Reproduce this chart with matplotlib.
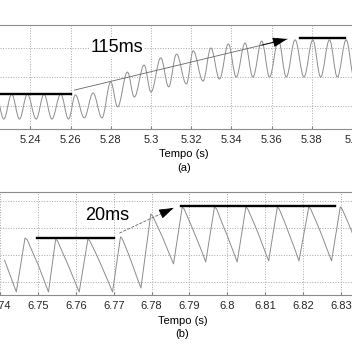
import matplotlib.pyplot as plt
from matplotlib.path import Path
from matplotlib.patches import PathPatch

plt.rcParams['font.family'] = ['Liberation Sans', 'DejaVu Sans']

# (a) picos e vales da tensao
t_a = [5.2229, 5.2268, 5.2307, 5.2346, 5.2385, 5.2429, 5.2468, 5.2507,
       5.2551, 5.2590, 5.2624, 5.2668, 5.2712, 5.2756, 5.2800, 5.2834,
       5.2883, 5.2917, 5.2966, 5.3000, 5.3049, 5.3088, 5.3127, 5.3176,
       5.3210, 5.3259, 5.3298, 5.3341, 5.3385, 5.3424, 5.3468, 5.3507,
       5.3551, 5.3590, 5.3634, 5.3673, 5.3717, 5.3761, 5.3805, 5.3844,
       5.3888, 5.3927, 5.3971, 5.4010]
v_a = [1.41, 0.55, 1.41, 0.55, 1.41, 0.55, 1.41, 0.55,
       1.41, 0.55, 1.38, 0.59, 1.45, 0.59, 1.83, 0.97,
       2.17, 1.31, 2.41, 1.48, 2.66, 1.66, 2.79, 1.76,
       2.90, 1.86, 3.00, 1.93, 3.14, 2.00, 3.17, 2.00,
       3.24, 2.00, 3.28, 2.00, 3.28, 2.00, 3.28, 2.00,
       3.28, 2.00, 3.28, 2.00]

# (b) forma de onda
t_b = [6.7412, 6.7443, 6.7466, 6.7472, 6.7488, 6.7501, 6.7516, 6.7528,
       6.7547, 6.7552, 6.7568, 6.7581, 6.7596, 6.7609,
       6.7632, 6.7637, 6.7655, 6.7668, 6.7684, 6.7697,
       6.7718, 6.7723, 6.7737, 6.7748, 6.7761, 6.7772,
       6.7798, 6.7803, 6.7819, 6.7831, 6.7846, 6.7858,
       6.7881, 6.7886, 6.7903, 6.7915, 6.7931, 6.7943,
       6.7966, 6.7972, 6.7987, 6.7999, 6.8014, 6.8026,
       6.8049, 6.8054, 6.8070, 6.8082, 6.8097, 6.8109,
       6.8132, 6.8137, 6.8152, 6.8163, 6.8178, 6.8189,
       6.8215, 6.8220, 6.8236, 6.8248, 6.8263, 6.8275,
       6.8298, 6.8303, 6.8319, 6.8331]
v_b = [1.81, 0.63, 2.63, 2.56, 2.04, 1.63, 1.07, 0.63,
       2.59, 2.52, 2.00, 1.59, 1.07, 0.63,
       2.59, 2.52, 2.00, 1.59, 1.07, 0.63,
       2.67, 2.59, 2.11, 1.70, 1.19, 0.78,
       3.52, 3.44, 2.96, 2.59, 2.07, 1.67,
       3.78, 3.70, 3.15, 2.74, 2.19, 1.74,
       3.78, 3.70, 3.15, 2.74, 2.19, 1.74,
       3.78, 3.70, 3.19, 2.78, 2.22, 1.78,
       3.78, 3.70, 3.19, 2.78, 2.22, 1.78,
       3.78, 3.70, 3.19, 2.78, 2.22, 1.78,
       3.78, 3.70, 3.19, 2.78]

# niveis (inicio, fim, valor)
niveis_a = [(5.2249, 5.2600, 1.41), (5.3741, 5.3966, 3.34)]
niveis_b = [(6.7497, 6.7702, 2.63), (6.7878, 6.8285, 3.81)]

ticks_a = [5.24, 5.26, 5.28, 5.30, 5.32, 5.34, 5.36, 5.38, 5.40]
labels_a = ['5.24', '5.26', '5.28', '5.3', '5.32', '5.34', '5.36', '5.38', '5.4']
ticks_b = [6.74, 6.75, 6.76, 6.77, 6.78, 6.79, 6.80, 6.81, 6.82, 6.83]
labels_b = ['6.74', '6.75', '6.76', '6.77', '6.78', '6.79', '6.8', '6.81', '6.82', '6.83']


def curva_suave(ax, t, v, **kw):
    # meia-onda senoidal entre picos e vales via bezier
    verts = [(t[0], v[0])]
    codes = [Path.MOVETO]
    for i in range(1, len(t)):
        dt = t[i] - t[i - 1]
        verts += [(t[i - 1] + 0.3634 * dt, v[i - 1]), (t[i] - 0.3634 * dt, v[i]), (t[i], v[i])]
        codes += [Path.CURVE4] * 3
    ax.add_patch(PathPatch(Path(verts, codes), fill=False, **kw))


def seta(ax, ini, fim, ls):
    ax.plot([ini[0], fim[0]], [ini[1], fim[1]], color='0.4', lw=0.6, ls=ls)
    base = (ini[0] + 0.88 * (fim[0] - ini[0]), ini[1] + 0.88 * (fim[1] - ini[1]))
    ax.annotate('', xy=fim, xytext=base,
                arrowprops=dict(arrowstyle='-|>,head_length=0.9,head_width=0.3',
                                color='black', lw=0.6, mutation_scale=10,
                                shrinkA=0, shrinkB=0))


def estilo(ax, ticks, labels, ygrid):
    ax.set_xticks(ticks)
    ax.set_xticklabels(labels)
    ax.set_yticks(ygrid)
    ax.set_yticklabels([])
    ax.tick_params(axis='x', labelsize=8, colors='0.5', labelcolor='0.15', length=2, direction='in', pad=4)
    ax.tick_params(axis='y', length=0)
    ax.grid(True, color='0.65', ls=':', lw=0.7)
    for s in ['left', 'right']:
        ax.spines[s].set_visible(False)
    for s in ['top', 'bottom']:
        ax.spines[s].set_color('0.55')
        ax.spines[s].set_linewidth(0.8)


fig = plt.figure(figsize=(3.52, 3.52), dpi=100)

ax1 = fig.add_axes([0, 0.6335, 1, 0.2955])
curva_suave(ax1, t_a, v_a, color='0.55', lw=0.7)
for a, b, v in niveis_a:
    ax1.plot([a, b], [v, v], color='black', lw=1.7)
seta(ax1, (5.2620, 1.55), (5.3678, 3.31), '-')
ax1.text(5.2829, 3.03, '115ms', fontsize=13, ha='center', va='center',
         bbox=dict(facecolor='white', edgecolor='none', pad=1))
ax1.set_xlim(5.2249, 5.3966)
ax1.set_ylim(0.207, 3.793)
estilo(ax1, ticks_a, labels_a, [1, 2, 3])
fig.text(0.523, 1 - 154 / 352, 'Tempo (s)', ha='center', va='center', fontsize=8)
fig.text(0.523, 1 - 168 / 352, '(a)', ha='center', va='center', fontsize=8)

ax2 = fig.add_axes([0, 0.162, 1, 0.2926])
ax2.plot(t_b, v_b, color='0.55', lw=0.7)
for a, b, v in niveis_b:
    ax2.plot([a, b], [v, v], color='black', lw=1.7)
seta(ax2, (6.7715, 2.81), (6.7858, 3.74), '--')
ax2.text(6.7684, 3.48, '20ms', fontsize=13, ha='center', va='center')
ax2.set_xlim(6.7417, 6.8329)
ax2.set_ylim(0.519, 4.333)
estilo(ax2, ticks_b, labels_b, [1, 2, 3, 4])
fig.text(0.518, 1 - 321 / 352, 'Tempo (s)', ha='center', va='center', fontsize=8)
fig.text(0.518, 1 - 334 / 352, '(b)', ha='center', va='center', fontsize=8)

fig.savefig('out.png', dpi=100)
